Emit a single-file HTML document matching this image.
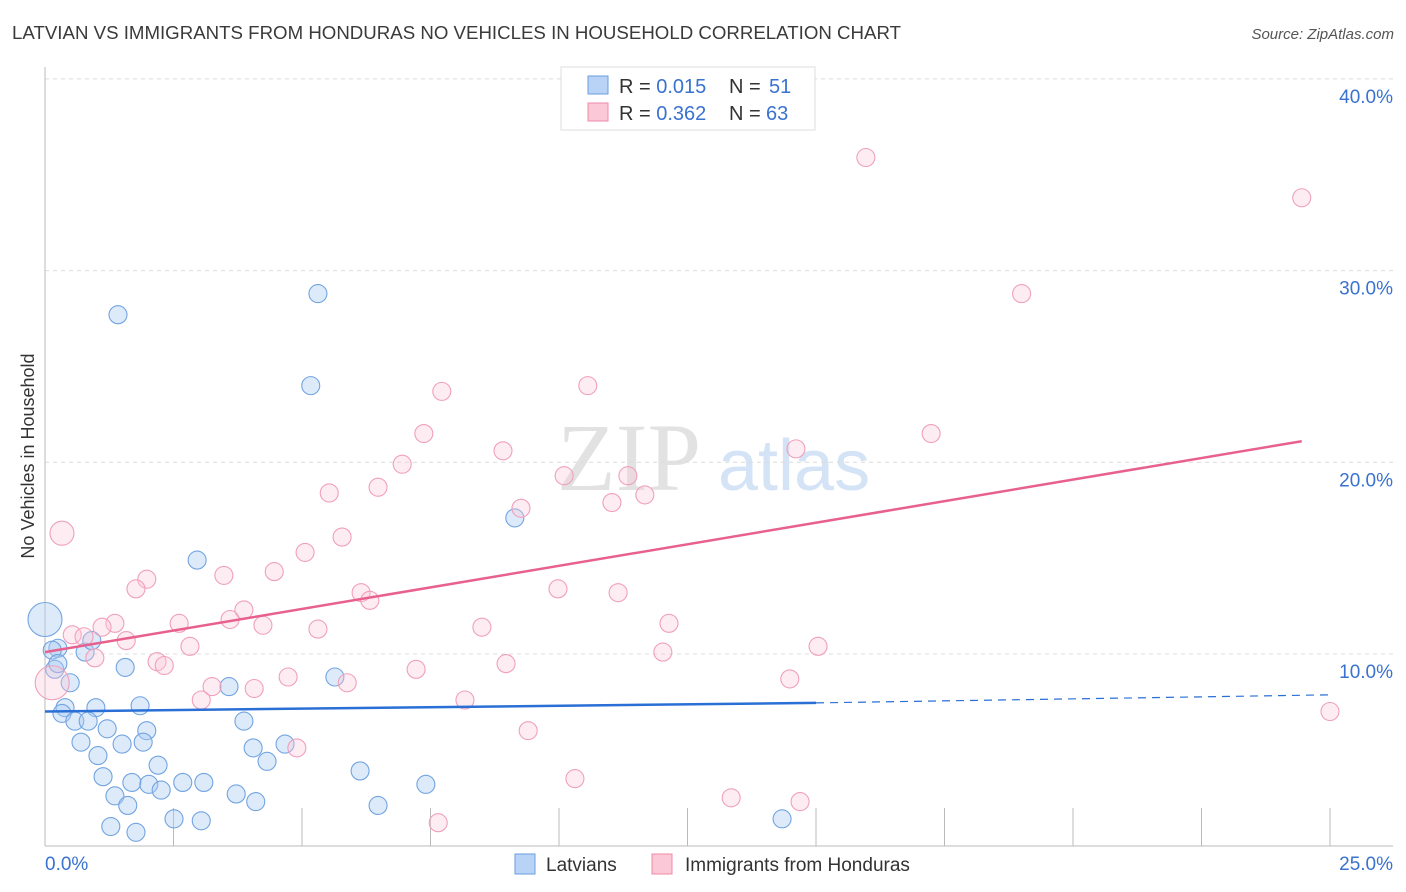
<!DOCTYPE html>
<html><head><meta charset="utf-8"><style>
body{margin:0;background:#fff;font-family:"Liberation Sans",sans-serif;}
svg{display:block}
</style></head><body>
<svg id="chart" width="1406" height="892">
<text x="12" y="39" font-size="18" fill="#3a3a3a" textLength="889" lengthAdjust="spacingAndGlyphs">LATVIAN VS IMMIGRANTS FROM HONDURAS NO VEHICLES IN HOUSEHOLD CORRELATION CHART</text>
<text x="1394" y="39" font-size="15" font-style="italic" fill="#555" text-anchor="end">Source: ZipAtlas.com</text>
<text x="557" y="490" font-size="96" font-family="Liberation Serif,serif" fill="#e2e2e2">ZIP</text>
<text x="718" y="490" font-size="72" fill="#d4e3f5">atlas</text>
<text transform="translate(34,456) rotate(-90)" font-size="18" fill="#333" text-anchor="middle">No Vehicles in Household</text>
<g id="grid"></g><g id="marks"></g><g id="lines"></g>
<g>
<rect x="561" y="67" width="254" height="63" fill="#fff" stroke="#ddd"/>
<rect x="588" y="76" width="20" height="18" fill="#b8d3f5" stroke="#6a9ee0"/>
<rect x="588" y="103" width="20" height="18" fill="#fac8d6" stroke="#ee8aa8"/>
<text x="619" y="93" font-size="20" fill="#333">R = <tspan fill="#3a72d0">0.015</tspan></text>
<text x="729" y="93" font-size="20" fill="#333">N = <tspan x="769" fill="#3a72d0">51</tspan></text>
<text x="619" y="120" font-size="20" fill="#333">R = <tspan fill="#3a72d0">0.362</tspan></text>
<text x="729" y="120" font-size="20" fill="#333">N = <tspan x="766" fill="#3a72d0">63</tspan></text>
</g>
<g>
<rect x="515" y="854" width="20" height="20" fill="#b8d3f5" stroke="#6a9ee0"/>
<text x="546" y="871" font-size="19" fill="#333">Latvians</text>
<rect x="652" y="854" width="20" height="20" fill="#fac8d6" stroke="#ee8aa8"/>
<text x="685" y="871" font-size="19" fill="#333">Immigrants from Honduras</text>
</g>
</svg>
<script>
const blueX=[1.42,5.31,5.17,9.14,2.96,0,0.25,0.14,0.78,0.91,1.56,0.19,0.49,1.85,0.99,0.39,0.33,0.58,0.84,1.21,1.98,3.87,3.58,5.64,0.70,1.50,1.91,1.03,4.05,4.67,4.32,2.20,1.13,1.69,2.02,2.68,3.09,2.26,1.36,3.72,4.10,6.13,7.41,1.61,6.48,2.51,3.04,1.28,1.77,14.34,0.25];
const blueY=[27.7,28.8,24.0,17.1,14.9,11.8,10.3,10.2,10.1,10.7,9.3,9.2,8.5,7.3,7.2,7.2,6.9,6.5,6.5,6.1,6.0,6.5,8.3,8.8,5.4,5.3,5.4,4.7,5.1,5.3,4.4,4.2,3.6,3.3,3.2,3.3,3.3,2.9,2.6,2.7,2.3,3.9,3.2,2.1,2.1,1.4,1.3,1.0,0.7,1.4,9.5];
const blueR=[9,9,9,9,9,17,9,9,9,9,9,9,9,9,9,9,9,9,9,9,9,9,9,9,9,9,9,9,9,9,9,9,9,9,9,9,9,9,9,9,9,9,9,9,9,9,9,9,9,9,9];
const pinkX=[15.97,24.45,19.0,10.56,7.72,7.37,17.24,8.91,6.95,14.61,10.10,11.34,5.53,6.48,11.67,11.03,9.26,0.33,5.78,5.06,3.48,1.98,4.46,1.77,9.98,11.15,6.15,6.32,3.87,3.60,1.36,2.61,4.24,1.11,5.31,8.50,12.14,0.53,0.76,1.58,2.82,15.04,0.97,2.18,2.32,12.02,7.22,8.97,4.73,5.88,3.25,4.07,3.04,8.17,14.49,0.14,25.0,9.40,4.90,10.31,13.35,14.69,7.65];
const pinkY=[35.9,33.8,28.8,24.0,23.7,21.5,21.5,20.6,19.9,20.7,19.3,19.3,18.4,18.7,18.3,17.9,17.6,16.3,16.1,15.3,14.1,13.9,14.3,13.4,13.4,13.2,13.2,12.8,12.3,11.8,11.6,11.6,11.5,11.4,11.3,11.4,11.6,11.0,10.9,10.7,10.4,10.4,9.8,9.6,9.4,10.1,9.2,9.5,8.8,8.5,8.3,8.2,7.6,7.6,8.7,8.5,7.0,6.0,5.1,3.5,2.5,2.3,1.2];
const pinkR=pinkX.map((v,i)=>i===17?12:(i===55?17:9));
const yTicks=[10,20,30,40];
const yTickLabels=["10.0%","20.0%","30.0%","40.0%"];
const xTicks=[2.5,5,7.5,10,12.5,15,17.5,20,22.5,25];
const blueTrendX=[0,15,25];
const blueTrendY=[7.0,7.45,7.87];
const pinkTrendX=[0,24.45];
const pinkTrendY=[10.1,21.1];
const X=v=>45+v*1285/25;
const Y=v=>845.7-v*19.17;
const NS="http://www.w3.org/2000/svg";
function mk(tag,attrs,parent){const e=document.createElementNS(NS,tag);for(const k in attrs)e.setAttribute(k,attrs[k]);parent.appendChild(e);return e;}
const grid=document.getElementById('grid'),marks=document.getElementById('marks'),lines=document.getElementById('lines');
yTicks.forEach((t,i)=>{
 const l=mk('line',{x1:45,x2:1393,y1:Y(t),y2:Y(t),stroke:'#dcdcdc','stroke-dasharray':'4,4'},grid);
 
 
 const tx=mk('text',{x:1393,y:Y(t)+24,'font-size':19,fill:'#3a72d0','text-anchor':'end'},grid);
 tx.textContent=yTickLabels[i];
 
 
});
const ax=mk('line',{x1:45,x2:45,y1:67,y2:846,stroke:'#bbb'},grid);


const bx=mk('line',{x1:45,x2:1393,y1:846,y2:846,stroke:'#bbb'},grid);


xTicks.forEach(t=>{
 const l=mk('line',{x1:X(t),x2:X(t),y1:808,y2:846,stroke:'#bbb'},grid);
 
 
});
const x0=mk('text',{x:45,y:870,'font-size':19,fill:'#3a72d0'},grid);x0.textContent='0.0%';


const x1=mk('text',{x:1393,y:870,'font-size':19,fill:'#3a72d0','text-anchor':'end'},grid);x1.textContent='25.0%';


blueX.forEach((v,i)=>{
 const c=mk('circle',{cx:X(v),cy:Y(blueY[i]),r:blueR[i],fill:'rgba(170,202,242,0.4)',stroke:'#72a4e0','stroke-width':1.1},marks);
 
 
});
pinkX.forEach((v,i)=>{
 const c=mk('circle',{cx:X(v),cy:Y(pinkY[i]),r:pinkR[i],fill:'rgba(250,200,216,0.35)',stroke:'#f0a0bb','stroke-width':1.1},marks);
 
 
});
const bl=mk('line',{x1:X(blueTrendX[0]),y1:Y(blueTrendY[0]),x2:X(blueTrendX[1]),y2:Y(blueTrendY[1]),stroke:'#2a6fd6','stroke-width':2.5},lines);


const bd=mk('line',{x1:X(blueTrendX[1]),y1:Y(blueTrendY[1]),x2:X(blueTrendX[2]),y2:Y(blueTrendY[2]),stroke:'#2a6fd6','stroke-width':1.2,'stroke-dasharray':'8,6'},lines);


const pl=mk('line',{x1:X(pinkTrendX[0]),y1:Y(pinkTrendY[0]),x2:X(pinkTrendX[1]),y2:Y(pinkTrendY[1]),stroke:'#e8608e','stroke-width':2.5},lines);


</script>
</body></html>
